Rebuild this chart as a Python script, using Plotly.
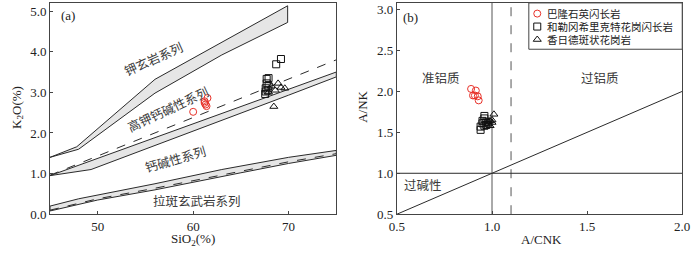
import plotly.graph_objects as go

# ---------------- data ----------------
# Panel (a): SiO2 vs K2O
bl_sio2 = [60.0, 61.2, 61.3, 61.4, 61.5, 61.2]
bl_k2o = [2.52, 2.74, 2.70, 2.66, 2.86, 2.78]
hl_sio2 = [67.7, 67.9, 67.6, 67.8, 67.55, 67.9, 68.7, 69.2, 67.7, 67.6]
hl_k2o = [3.33, 3.35, 3.10, 3.05, 2.96, 3.15, 3.69, 3.82, 3.22, 3.02]
xr_sio2 = [68.9, 69.6, 68.45, 69.2, 68.2, 68.6, 67.9]
xr_k2o = [3.22, 3.10, 2.65, 3.12, 3.15, 3.05, 3.00]

# Panel (b): A/CNK vs A/NK
bl_acnk = [0.89, 0.915, 0.90, 0.91, 0.925, 0.93]
bl_ank = [2.03, 2.01, 1.95, 1.95, 1.94, 1.89]
hl_acnk = [0.94, 0.94, 0.95, 0.95, 0.96, 0.96, 0.97, 0.97, 0.98, 0.96]
hl_ank = [1.53, 1.57, 1.61, 1.64, 1.67, 1.70, 1.63, 1.59, 1.62, 1.58]
xr_acnk = [1.01, 0.99, 1.00, 0.98, 0.99, 1.00, 0.98]
xr_ank = [1.72, 1.64, 1.62, 1.60, 1.58, 1.65, 1.63]

series_names = ["巴隆石英闪长岩", "和勒冈希里克特花岗闪长岩", "香日德斑状花岗岩"]

# Boundary bands (Peccerillo & Taylor style)
band1_up_x = [45, 47.8, 56, 69.9]
band1_up_y = [1.40, 1.66, 3.32, 5.13]
band1_lo_x = [45, 48, 56, 63, 69.9]
band1_lo_y = [1.40, 1.60, 2.98, 3.92, 4.72]
band2_up_x = [45, 75]
band2_up_y = [0.95, 3.50]
band2_lo_x = [45, 49.3, 70, 75]
band2_lo_y = [0.95, 1.10, 2.93, 3.38]
dash2_x = [45, 75]
dash2_y = [0.96, 3.80]
band3_up_x = [45, 48, 56, 63, 70, 75]
band3_up_y = [0.20, 0.38, 0.75, 1.10, 1.40, 1.57]
band3_lo_x = [45, 50, 56, 65, 70, 75]
band3_lo_y = [0.08, 0.35, 0.60, 1.02, 1.25, 1.45]
dash3_x = [45, 50, 56, 65, 70, 75]
dash3_y = [0.10, 0.38, 0.64, 1.06, 1.29, 1.49]

# Panel (b) axis ranges and reference lines
acnk_range = [0.5, 2.0]
ank_range = [0.5, 3.08]
diag_x = [0.5, 2.0]
diag_y = [0.5, 2.0]
acnk_1 = 1.0
acnk_dash = 1.1
ank_1 = 1.0

# legend rows (positions on the legend's own 0..1 axis)
legend_rows = [0.77, 0.49, 0.21]

# --------------- figure ---------------
fig = go.Figure()
LC = "#2a2a2a"
FILL = "#e6e6e6"
W, H = 700, 256

def band(ux, uy, lx, ly):
    xs = list(ux) + list(reversed(lx)) + [ux[0]]
    ys = list(uy) + list(reversed(ly)) + [uy[0]]
    fig.add_trace(go.Scatter(x=xs, y=ys, mode="lines", fill="toself", fillcolor=FILL,
                             line=dict(color=LC, width=1), showlegend=False, hoverinfo="skip",
                             xaxis="x", yaxis="y"))

band(band1_up_x, band1_up_y, band1_lo_x, band1_lo_y)
band(band2_up_x, band2_up_y, band2_lo_x, band2_lo_y)
band(band3_up_x, band3_up_y, band3_lo_x, band3_lo_y)
for dx, dy in [(dash2_x, dash2_y), (dash3_x, dash3_y)]:
    fig.add_trace(go.Scatter(x=dx, y=dy, mode="lines", line=dict(color=LC, width=1, dash="dash"),
                             showlegend=False, hoverinfo="skip", xaxis="x", yaxis="y"))

# panel b lines
fig.add_trace(go.Scatter(x=diag_x, y=diag_y, mode="lines", line=dict(color=LC, width=1),
                         showlegend=False, hoverinfo="skip", xaxis="x2", yaxis="y2"))
fig.add_trace(go.Scatter(x=[acnk_1, acnk_1], y=ank_range, mode="lines", line=dict(color="#555", width=1),
                         showlegend=False, hoverinfo="skip", xaxis="x2", yaxis="y2"))
fig.add_trace(go.Scatter(x=[acnk_dash, acnk_dash], y=ank_range, mode="lines",
                         line=dict(color="#555", width=1, dash="dash"),
                         showlegend=False, hoverinfo="skip", xaxis="x2", yaxis="y2"))
fig.add_trace(go.Scatter(x=acnk_range, y=[ank_1, ank_1], mode="lines", line=dict(color=LC, width=1),
                         showlegend=False, hoverinfo="skip", xaxis="x2", yaxis="y2"))

styles = [
    dict(symbol="circle-open", color="#e8322a"),
    dict(symbol="square-open", color="#111111"),
    dict(symbol="triangle-up-open", color="#111111"),
]
a_data = [(bl_sio2, bl_k2o), (hl_sio2, hl_k2o), (xr_sio2, xr_k2o)]
b_data = [(bl_acnk, bl_ank), (hl_acnk, hl_ank), (xr_acnk, xr_ank)]
for i, name in enumerate(series_names):
    st = styles[i]
    mk = dict(symbol=st["symbol"], color=st["color"], size=7, line=dict(width=1, color=st["color"]))
    fig.add_trace(go.Scatter(x=a_data[i][0], y=a_data[i][1], mode="markers", marker=mk,
                             name=name, showlegend=False, xaxis="x", yaxis="y"))
    fig.add_trace(go.Scatter(x=b_data[i][0], y=b_data[i][1], mode="markers", marker=mk,
                             name=name, showlegend=False, xaxis="x2", yaxis="y2"))
    # legend key symbol on the legend's own axis
    fig.add_trace(go.Scatter(x=[0.055], y=[legend_rows[i]], mode="markers", marker=mk,
                             name=name, showlegend=False, hoverinfo="skip", xaxis="x3", yaxis="y3"))

SERIF = "Liberation Serif"
CJK = "Noto Sans CJK SC"
ax_common = dict(showgrid=False, zeroline=False, showline=True, mirror=True, linecolor="#444",
                 linewidth=1, ticks="inside", ticklen=3, tickcolor="#444",
                 tickfont=dict(family=SERIF, size=13, color="#222"))

LEG_X0, LEG_X1, LEG_Y0, LEG_Y1 = 533 / W, 690 / W, 1 - 50 / H, 1 - 2 / H

fig.update_layout(
    width=W, height=H, margin=dict(l=0, r=0, t=0, b=0),
    paper_bgcolor="white", plot_bgcolor="white", showlegend=False,
    xaxis=dict(domain=[43 / W, 336 / W], range=[45, 75], dtick=10, tick0=50, anchor="y", **ax_common),
    yaxis=dict(domain=[1 - 221 / H, 1 - 2 / H], range=[0, 5.2], dtick=1, tickformat=".1f", anchor="x",
               **ax_common),
    xaxis2=dict(domain=[398 / W, 690 / W], range=acnk_range, dtick=0.5, tickformat=".1f", anchor="y2",
                **ax_common),
    yaxis2=dict(domain=[1 - 221 / H, 1 - 2 / H], range=ank_range, tick0=0.5, dtick=0.5, tickformat=".1f",
                anchor="x2", **ax_common),
    xaxis3=dict(domain=[LEG_X0, LEG_X1], range=[0, 1], visible=False, anchor="y3"),
    yaxis3=dict(domain=[LEG_Y0, LEG_Y1], range=[0, 1], visible=False, anchor="x3"),
)

fig.add_shape(type="rect", xref="paper", yref="paper", x0=LEG_X0, x1=LEG_X1, y0=LEG_Y0, y1=LEG_Y1,
              line=dict(color="#444", width=1), fillcolor="rgba(0,0,0,0)", layer="above")

def label(text, x, y, xref, yref, angle=0, size=13, family=CJK, xanchor="center", color="#3a3a3a"):
    fig.add_annotation(text=text, x=x, y=y, xref=xref, yref=yref, showarrow=False,
                       textangle=angle, xanchor=xanchor, yanchor="middle",
                       font=dict(family=family, size=size, color=color))

for i, name in enumerate(series_names):
    label(name, 0.105, legend_rows[i], "x3", "y3", 0, 10.5, CJK, "left", "#222")

label("钾玄岩系列", 55.8, 3.83, "x", "y", -24, 12.5)
label("高钾钙碱性系列", 57.4, 2.6, "x", "y", -25, 12.5)
label("钙碱性系列", 58.2, 1.37, "x", "y", -16, 12.5)
label("拉斑玄武岩系列", 60.4, 0.34, "x", "y", 0, 12.5)
label("(a)", 46.9, 4.9, "x", "y", 0, 13, SERIF, color="#222")
label("准铝质", 0.733, 2.17, "x2", "y2", 0, 12.5)
label("过铝质", 1.57, 2.17, "x2", "y2", 0, 12.5)
label("过碱性", 0.635, 0.86, "x2", "y2", 0, 12.5)
label("(b)", 0.57, 2.9, "x2", "y2", 0, 13, SERIF, color="#222")

# axis titles
label("SiO<sub>2</sub>(%)", 189 / W, 1 - 247 / H, "paper", "paper", 0, 13, SERIF, color="#222")
label("K<sub>2</sub>O(%)", 9 / W, 1 - 110 / H, "paper", "paper", -90, 13, SERIF, color="#222")
label("A/CNK", 546 / W, 1 - 247 / H, "paper", "paper", 0, 13, SERIF, color="#222")
label("A/NK", 362 / W, 1 - 110 / H, "paper", "paper", -90, 13, SERIF, color="#222")

# page body margin removed so the 700x256 figure fills the window exactly
fig.write_html("out.html", config={"displayModeBar": False},
               post_script="document.body.style.margin='0';document.body.style.overflow='hidden';")
